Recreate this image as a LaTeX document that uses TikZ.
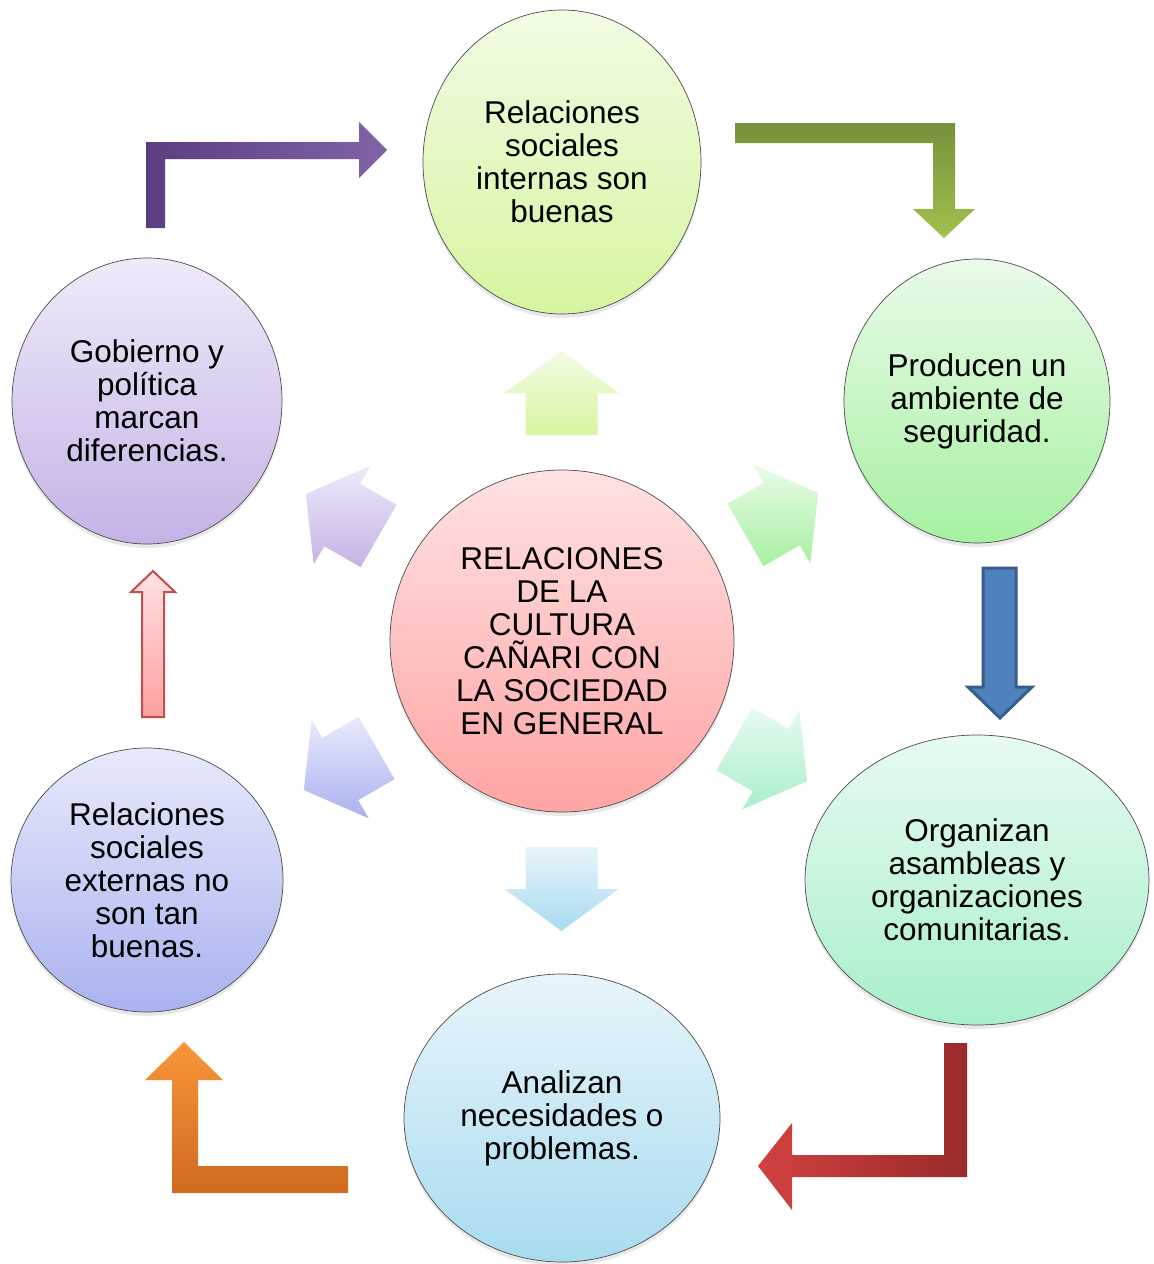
\documentclass[tikz,border=0pt]{standalone}
\usepackage{fontspec}
\setmainfont{Liberation Sans}
\usetikzlibrary{shapes.geometric,calc,shadows}
\definecolor{topA}{HTML}{F2FCE4}\definecolor{botA}{HTML}{D6F5A0}
\definecolor{topB}{HTML}{EAFBE9}\definecolor{botB}{HTML}{A6F1A1}
\definecolor{topC}{HTML}{E8FBF1}\definecolor{botC}{HTML}{A8EFCA}
\definecolor{topD}{HTML}{E8F5FB}\definecolor{botD}{HTML}{A8DBEF}
\definecolor{topE}{HTML}{E8EAFB}\definecolor{botE}{HTML}{A9B2EF}
\definecolor{topF}{HTML}{F0EAF9}\definecolor{botF}{HTML}{C5B2E6}
\definecolor{topG}{HTML}{FFE2E2}\definecolor{botG}{HTML}{FFA4A4}
\definecolor{purpA}{HTML}{5B3D80}\definecolor{purpB}{HTML}{8163A8}
\definecolor{grnA}{HTML}{76913B}\definecolor{grnB}{HTML}{A0C24F}
\definecolor{bluF}{HTML}{4F81BD}\definecolor{bluD}{HTML}{385D8A}
\definecolor{redA}{HTML}{D14141}\definecolor{redB}{HTML}{9A2A2A}
\definecolor{orA}{HTML}{F9963A}\definecolor{orB}{HTML}{CF6A20}
\definecolor{pinkA}{HTML}{FFE2E2}\definecolor{pinkB}{HTML}{FFA0A0}\definecolor{pinkD}{HTML}{C0504D}
\newcommand\innerarrow[4]{% center, angle, top, bottom
  \shade[top color=#3, bottom color=#4]
    ($(#1)+(#2:206)+({#2+90}:36)$) --
    ($(#1)+(#2:248)+({#2+90}:36)$) --
    ($(#1)+(#2:248)+({#2+90}:57)$) --
    ($(#1)+(#2:290)$) --
    ($(#1)+(#2:248)+({#2-90}:57)$) --
    ($(#1)+(#2:248)+({#2-90}:36)$) --
    ($(#1)+(#2:206)+({#2-90}:36)$) -- cycle;}
\tikzset{
  bubble/.style={ellipse, draw=black!70, line width=0.7pt, inner sep=0pt,
    align=center, text=black, font=\fontsize{31.5}{33}\selectfont,
    drop shadow={opacity=0.18, shadow xshift=0pt, shadow yshift=-4pt}},
}
\begin{document}
\begin{tikzpicture}[x=1pt,y=-1pt]
\useasboundingbox[fill=white] (0,0) rectangle (1154,1264);
% circles
\node[bubble, top color=topA, bottom color=botA, minimum width=278, minimum height=304] (top) at (562,162) {Relaciones\\sociales\\internas son\\buenas};
\node[bubble, top color=topB, bottom color=botB, minimum width=266, minimum height=284] (ru) at (977,401) {Producen un\\ambiente de\\seguridad.};
\node[bubble, top color=topC, bottom color=botC, minimum width=344, minimum height=290] (rl) at (977,880) {Organizan\\asambleas y\\organizaciones\\comunitarias.};
\node[bubble, top color=topD, bottom color=botD, minimum width=316, minimum height=288] (bot) at (562,1118) {Analizan\\necesidades o\\problemas.};
\node[bubble, top color=topE, bottom color=botE, minimum width=272, minimum height=264] (ll) at (147,880) {Relaciones\\sociales\\externas no\\son tan\\buenas.};
\node[bubble, top color=topF, bottom color=botF, minimum width=270, minimum height=286] (lu) at (147,401) {Gobierno y\\política\\marcan\\diferencias.};
\node[bubble, top color=topG, bottom color=botG, minimum width=344, minimum height=342] (ctr) at (562,641) {RELACIONES\\DE LA\\CULTURA\\CAÑARI CON\\LA SOCIEDAD\\EN GENERAL};
% inner arrows
\coordinate (cv) at (561.5,641);
\coordinate (cur) at (567,638);
\coordinate (clr) at (556,636);
\coordinate (cll) at (555,645);
\coordinate (cul) at (557,639);
\innerarrow{cv}{-90}{topA}{botA}
\innerarrow{cur}{-30}{topB}{botB}
\innerarrow{clr}{30}{topC}{botC}
\innerarrow{cv}{90}{topD}{botD}
\innerarrow{cll}{150}{topE}{botE}
\innerarrow{cul}{210}{topF}{botF}
% outer arrows
\shade[left color=purpA, right color=purpB]
  (146,228) -- (146,142) -- (359,142) -- (359,122) -- (387,150) -- (359,178) -- (359,159) -- (165,159) -- (165,228) -- cycle;
\shade[top color=grnA, bottom color=grnB]
  (735,123) -- (955,123) -- (955,209) -- (975,209) -- (944,238) -- (913,209) -- (933,209) -- (933,143) -- (735,143) -- cycle;
\draw[fill=bluF, draw=bluD, line width=3pt, line join=miter]
  (983,568) -- (1016,568) -- (1016,687) -- (1032,687) -- (1000,718) -- (968,687) -- (983,687) -- cycle;
\shade[left color=redA, right color=redB]
  (944,1043) -- (967,1043) -- (967,1177) -- (792,1177) -- (792,1210) -- (758,1166) -- (792,1123) -- (792,1155) -- (944,1155) -- cycle;
\shade[top color=orA, bottom color=orB]
  (348,1166) -- (348,1193) -- (172,1193) -- (172,1080) -- (145,1080) -- (184,1042) -- (223,1080) -- (198,1080) -- (198,1166) -- cycle;
\draw[top color=pinkA, bottom color=pinkB, draw=pinkD, line width=2pt]
  (142,717) -- (142,592) -- (131,592) -- (153,571) -- (175,592) -- (164,592) -- (164,717) -- cycle;
\end{tikzpicture}
\end{document}
